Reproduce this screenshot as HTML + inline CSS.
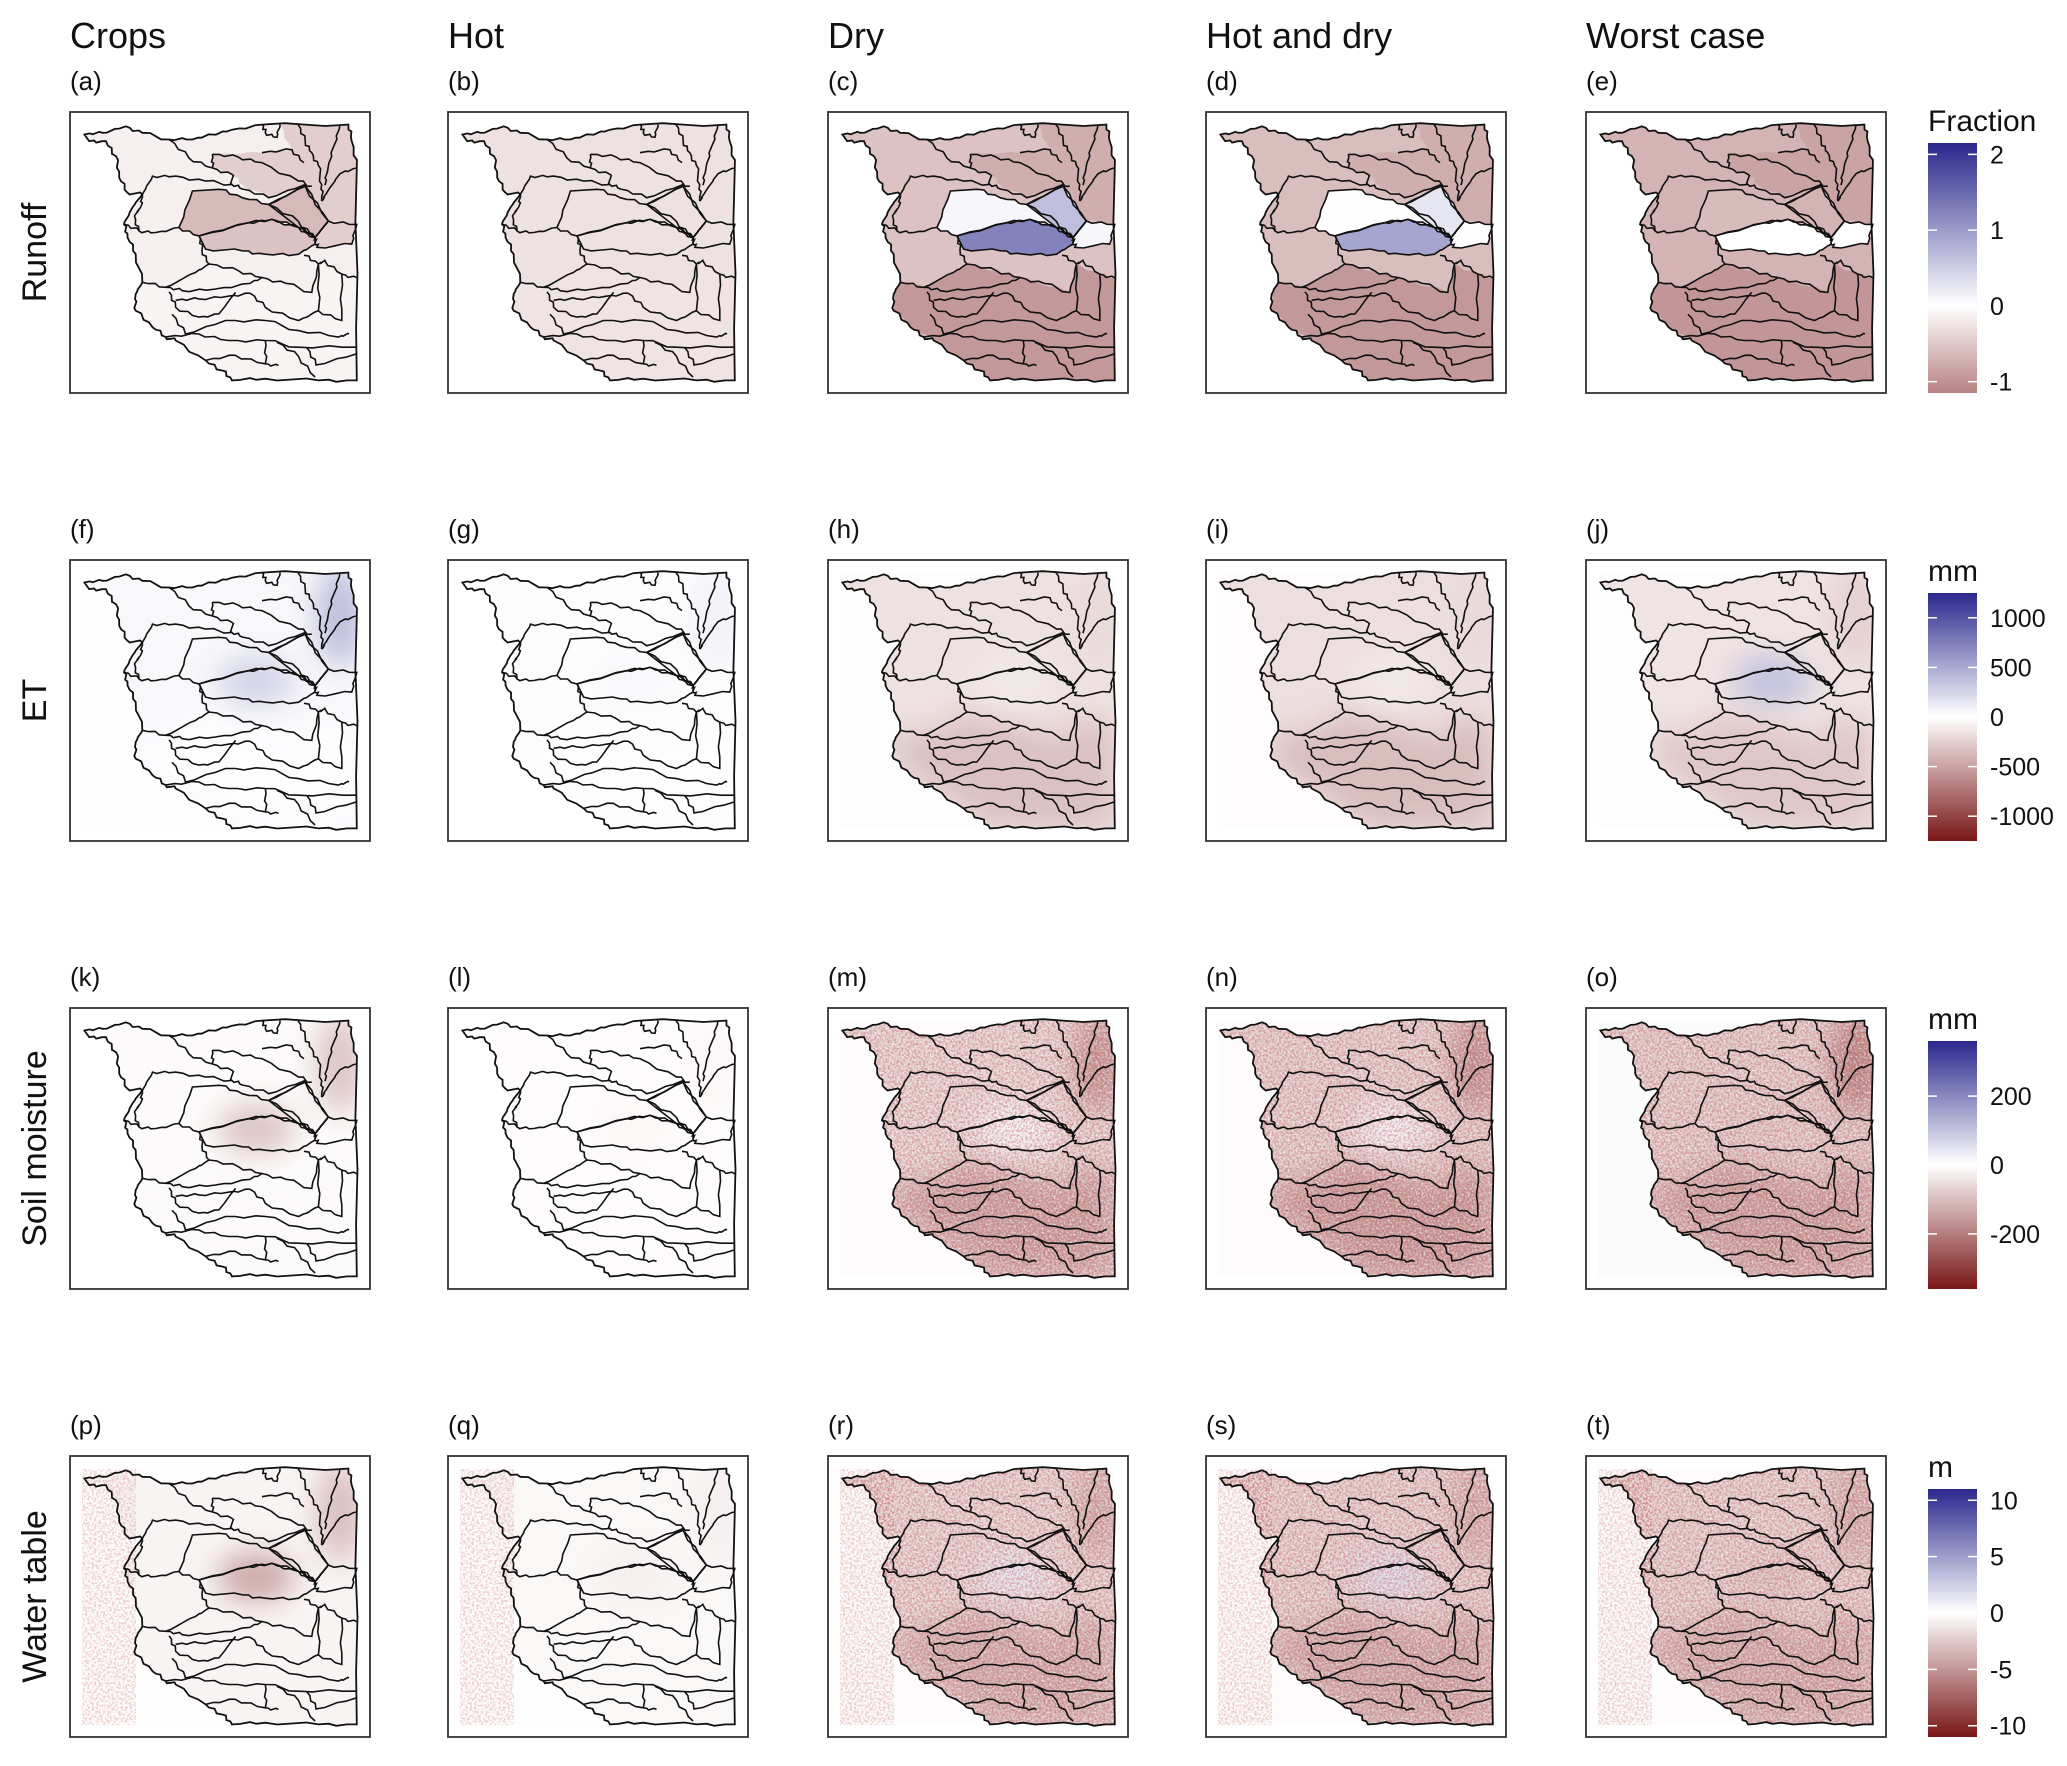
<!DOCTYPE html>
<html><head><meta charset="utf-8">
<style>
html,body{margin:0;padding:0;background:#fff;}
body{width:2067px;height:1761px;overflow:hidden;font-family:"Liberation Sans",Arial,sans-serif;}
svg text{font-family:"Liberation Sans",Arial,sans-serif;fill:#111;}
</style></head>
<body>
<svg id="fig" width="2067" height="1761" viewBox="0 0 2067 1761" xmlns="http://www.w3.org/2000/svg">
<defs>
<filter id="blur" x="-50%" y="-50%" width="200%" height="200%"><feGaussianBlur stdDeviation="14"/></filter>
<filter id="speck" x="0" y="0" width="100%" height="100%">
 <feTurbulence type="fractalNoise" baseFrequency="0.45" numOctaves="2" seed="3" result="n"/>
 <feColorMatrix in="n" type="matrix" values="0 0 0 0 0.55  0 0 0 0 0.12  0 0 0 0 0.12  0 0 0 -4 2.3"/>
</filter>
<filter id="speckW" x="0" y="0" width="100%" height="100%">
 <feTurbulence type="fractalNoise" baseFrequency="0.5" numOctaves="2" seed="8" result="n"/>
 <feColorMatrix in="n" type="matrix" values="0 0 0 0 1  0 0 0 0 1  0 0 0 0 1  0 0 0 -4 2.2"/>
</filter>
</defs>
</svg>
<script>
// ---- data ----
const columnTitles = ["Crops","Hot","Dry","Hot and dry","Worst case"];
const rowTitles = ["Runoff","ET","Soil moisture","Water table"];
const panelLetters = ["a","b","c","d","e","f","g","h","i","j","k","l","m","n","o","p","q","r","s","t"];
const legendUnits = ["Fraction","mm","mm","m"];
const legendMin = [-1.15,-1250,-360,-11];
const legendMax = [2.15,1250,360,11];
const legendTicks = [[2,1,0,-1],[1000,500,0,-500,-1000],[200,0,-200],[10,5,0,-5,-10]];
// runoff basin values per column (fraction)
const runoffNorth   = [-0.15,-0.28,-0.56,-0.60,-0.70];
const runoffSouth   = [-0.10,-0.26,-0.95,-0.95,-0.97];
const runoffNE      = [-0.45,-0.28,-0.75,-0.75,-0.85];
const runoffUpper   = [-0.64,-0.28, 0.08, 0.01,-0.62];
const runoffLower   = [-0.55,-0.28, 1.25, 0.90, 0.00];
const runoffSmall   = [-0.65,-0.28, 0.65, 0.25,-0.70];
const runoffRight   = [-0.45,-0.28, 0.08, 0.01, 0.00];
// raster rows: base value, southern value, central patch value, north-east value (row units)
const etBase    = [  40,  20,-160,-170,-150];
const etSouth   = [  10,  10,-330,-350,-300];
const etPatch   = [ 250,  40,-120,-120, 350];
const etNE      = [ 380,  80,-200,-200,-250];
const smBase    = [  -8,  -6, -70, -80, -85];
const smSouth   = [ -10,  -6,-150,-160,-150];
const smPatch   = [ -90, -12,  20,  25, -90];
const smNE      = [ -90, -12,-170,-180,-200];
const wtBase    = [-0.5,-0.4,-2.2,-2.4,-2.4];
const wtSouth   = [-0.5,-0.4,-4.0,-4.2,-4.0];
const wtPatch   = [-4.0,-0.8, 1.5, 2.0,-3.0];
const wtNE      = [-3.0,-0.8,-4.0,-4.0,-4.0];

// ---- layout ----
const svg = document.getElementById('fig');
const NS = "http://www.w3.org/2000/svg";
const colX = [70,448,828,1206,1586];
const rowY = [112,560,1008,1456];
const PW = 300, PH = 281;
function mk(tag, attrs, parent){const e=document.createElementNS(NS,tag);for(const k in attrs)e.setAttribute(k,attrs[k]);(parent||svg).appendChild(e);return e;}
function lerp(a,b,t){return Math.round(a+(b-a)*t);}
function colorFor(v,min,max){
  if(v>=0){const t=Math.min(1,v/max);return `rgb(${lerp(255,42,t)},${lerp(255,40,t)},${lerp(255,140,t)})`;}
  const t=Math.min(1,v/min);
  return `rgb(${lerp(255,120,t)},${lerp(255,22,t)},${lerp(255,22,t)})`;
}
function runoffColor(v){return colorFor(v,-2.15,2.15);}

// map geometry (fractions)
const outline=[[0.048,0.08],[0.108,0.074],[0.186,0.051],[0.241,0.074],[0.33,0.098],[0.408,0.098],[0.474,0.08],[0.54,0.063],[0.64,0.045],[0.928,0.045],[0.939,0.104],[0.956,0.199],[0.956,0.955],[0.828,0.955],[0.651,0.949],[0.54,0.955],[0.507,0.92],[0.452,0.884],[0.352,0.813],[0.319,0.801],[0.275,0.766],[0.219,0.707],[0.219,0.648],[0.241,0.606],[0.219,0.506],[0.192,0.447],[0.18,0.40],[0.208,0.34],[0.241,0.293],[0.191,0.287],[0.164,0.234],[0.153,0.157],[0.12,0.104],[0.064,0.104]];
const upperP=[[0.408,0.281],[0.363,0.411],[0.43,0.441],[0.596,0.394],[0.673,0.382],[0.762,0.411],[0.817,0.447],[0.861,0.388],[0.784,0.264],[0.662,0.329],[0.574,0.305],[0.496,0.275]];
const lowerP=[[0.43,0.441],[0.596,0.394],[0.673,0.382],[0.762,0.411],[0.817,0.447],[0.817,0.47],[0.762,0.506],[0.651,0.506],[0.574,0.494],[0.452,0.488]];
const smallP=[[0.662,0.329],[0.784,0.264],[0.861,0.388],[0.817,0.447],[0.762,0.411]];
const rightP=[[0.817,0.447],[0.861,0.388],[0.956,0.40],[0.939,0.47],[0.828,0.482],[0.817,0.47]];
const southP=[[0.241,0.606],[0.319,0.624],[0.418,0.571],[0.463,0.541],[0.562,0.565],[0.64,0.589],[0.806,0.642],[0.828,0.541],[0.906,0.577],[0.956,0.59],[0.956,0.955],[0.54,0.955],[0.452,0.884],[0.352,0.813],[0.275,0.766],[0.219,0.707],[0.219,0.648]];
const neP=[[0.474,0.151],[0.64,0.145],[0.74,0.134],[0.7,0.045],[0.956,0.045],[0.956,0.40],[0.861,0.388],[0.784,0.264],[0.662,0.305],[0.574,0.258],[0.54,0.222],[0.474,0.199]];
const lines=[
 [[0.241,0.293],[0.275,0.228],[0.352,0.228],[0.452,0.246],[0.54,0.258]],
 [[0.33,0.098],[0.396,0.163],[0.474,0.199],[0.54,0.222],[0.54,0.258],[0.574,0.274],[0.662,0.305],[0.784,0.258]],
 [[0.474,0.151],[0.56,0.16],[0.64,0.18],[0.762,0.246],[0.806,0.264]],
 [[0.474,0.151],[0.474,0.199]],
 [[0.64,0.045],[0.651,0.074],[0.69,0.09],[0.7,0.045]],
 [[0.76,0.045],[0.784,0.104],[0.806,0.145],[0.828,0.19],[0.839,0.258],[0.839,0.317]],
 [[0.64,0.145],[0.74,0.134],[0.78,0.18]],
 [[0.9,0.045],[0.88,0.12],[0.86,0.2],[0.85,0.26]],
 [[0.956,0.199],[0.9,0.22],[0.86,0.28],[0.84,0.317]],
 [[0.662,0.329],[0.762,0.39],[0.817,0.447]],
 [[0.18,0.40],[0.23,0.423],[0.286,0.429],[0.363,0.411]],
 [[0.241,0.293],[0.235,0.34],[0.215,0.37],[0.23,0.423]],
 [[0.43,0.441],[0.44,0.49],[0.463,0.541],[0.418,0.571],[0.319,0.624],[0.241,0.606]],
 [[0.463,0.541],[0.562,0.565],[0.64,0.589],[0.72,0.61],[0.806,0.642],[0.828,0.541],[0.78,0.51]],
 [[0.828,0.541],[0.85,0.53],[0.906,0.577],[0.956,0.59]],
 [[0.828,0.541],[0.828,0.707],[0.906,0.742],[0.906,0.577]],
 [[0.319,0.624],[0.374,0.636],[0.485,0.63],[0.6,0.61],[0.64,0.589]],
 [[0.33,0.64],[0.352,0.695],[0.43,0.73],[0.496,0.719],[0.552,0.642]],
 [[0.352,0.67],[0.43,0.665],[0.53,0.655],[0.6,0.645]],
 [[0.6,0.645],[0.651,0.695],[0.762,0.742],[0.828,0.707]],
 [[0.34,0.72],[0.385,0.79],[0.518,0.742],[0.651,0.742],[0.762,0.778],[0.895,0.801],[0.93,0.79]],
 [[0.319,0.801],[0.43,0.79],[0.529,0.813],[0.651,0.813],[0.762,0.837],[0.956,0.837]],
 [[0.452,0.884],[0.551,0.866],[0.651,0.896],[0.695,0.902]],
 [[0.651,0.813],[0.651,0.896]],
 [[0.69,0.82],[0.762,0.87],[0.817,0.943]],
 [[0.79,0.84],[0.82,0.9],[0.956,0.86]]
];
function jag(pts){
  let out=[];for(let i=0;i<pts.length;i++){const p=pts[i];out.push([p[0]*PW,p[1]*PH]);
    if(i<pts.length-1){const q=pts[i+1];const n=4;for(let k=1;k<n;k++){const t=k/n;const w=((i*7+k*13)%5-2)*0.7;out.push([(p[0]+(q[0]-p[0])*t)*PW+w,(p[1]+(q[1]-p[1])*t)*PH-w]);}}}
  return out;}
function pathD(pts,close){const j=jag(pts);return j.map((p,i)=>(i?'L':'M')+p[0].toFixed(1)+','+p[1].toFixed(1)).join('')+(close?'Z':'');}
const outlineD=pathD(outline,true);
const defs=svg.querySelector('defs');
const cp=mk('clipPath',{id:'mapclip'},defs);
mk('path',{d:outlineD},cp);

columnTitles.forEach((t,i)=>{const e=mk('text',{x:colX[i],y:48,'font-size':36});e.textContent=t;

});
rowTitles.forEach((t,r)=>{const cy=rowY[r]+PH/2;const e=mk('text',{x:0,y:0,'font-size':34,'text-anchor':'middle',transform:`translate(46,${cy}) rotate(-90)`});e.textContent=t;

});

function drawBasinLines(g){
  mk('path',{d:outlineD,fill:'none',stroke:'#111','stroke-width':1.8},g);
  [upperP,lowerP,smallP,rightP].forEach(p=>mk('path',{d:pathD(p,true),fill:'none',stroke:'#111','stroke-width':1.6},g));
  lines.forEach(l=>mk('path',{d:pathD(l,false),fill:'none',stroke:'#111','stroke-width':1.6},g));
}

const rasterBase=[null,etBase,smBase,wtBase], rasterSouth=[null,etSouth,smSouth,wtSouth], rasterPatch=[null,etPatch,smPatch,wtPatch], rasterNE=[null,etNE,smNE,wtNE];

for(let r=0;r<4;r++){
  for(let c=0;c<5;c++){
    const idx=r*5+c;
    const lab=mk('text',{x:colX[c],y:rowY[r]-22,'font-size':26});lab.textContent='('+panelLetters[idx]+')';
    
    
    const g=mk('g',{transform:`translate(${colX[c]},${rowY[r]})`});
    
    
    mk('rect',{x:0,y:0,width:PW,height:PH,fill:'#fff'},g);
    const mn=legendMin[r], mx=legendMax[r];
    if(r===0){
      const f=mk('g',{'clip-path':'url(#mapclip)'},g);
      mk('rect',{x:0,y:0,width:PW,height:PH,fill:runoffColor(runoffNorth[c])},f);
      mk('path',{d:pathD(neP,true),fill:runoffColor(runoffNE[c])},f);
      mk('path',{d:pathD(southP,true),fill:runoffColor(runoffSouth[c])},f);
      mk('path',{d:pathD(upperP,true),fill:runoffColor(runoffUpper[c])},f);
      mk('path',{d:pathD(lowerP,true),fill:runoffColor(runoffLower[c])},f);
      mk('path',{d:pathD(smallP,true),fill:runoffColor(runoffSmall[c])},f);
      mk('path',{d:pathD(rightP,true),fill:runoffColor(runoffRight[c])},f);
    } else {
      const f=mk('g',{},g);
      const x0=0.04*PW,y0=0.047*PH,w=0.915*PW,h=0.909*PH;
      mk('rect',{x:x0,y:y0,width:w,height:h,fill:colorFor(rasterBase[r][c]*0.08,mn,mx)},f);
      const inner=mk('g',{'clip-path':'url(#mapclip)'},f);
      mk('rect',{x:0,y:0,width:PW,height:PH,fill:colorFor(rasterBase[r][c],mn,mx)},inner);
      mk('path',{d:pathD(southP,true),fill:colorFor(rasterSouth[r][c],mn,mx),filter:'url(#blur)'},inner);
      mk('ellipse',{cx:0.9*PW,cy:0.2*PH,rx:0.08*PW,ry:0.18*PH,fill:colorFor(rasterNE[r][c],mn,mx),filter:'url(#blur)'},inner);
      mk('ellipse',{cx:0.62*PW,cy:0.43*PH,rx:0.13*PW,ry:0.09*PH,fill:colorFor(rasterPatch[r][c],mn,mx),filter:'url(#blur)'},inner);
      if(r>=2 && c>=2){
        mk('rect',{x:x0,y:y0,width:w,height:h,filter:'url(#speckW)',opacity:0.55},inner);
        mk('rect',{x:x0,y:y0,width:w,height:h,filter:'url(#speck)',opacity:0.45},inner);
      }
      if(r===3){mk('rect',{x:x0,y:y0,width:0.18*PW,height:h,filter:'url(#speck)',opacity:0.3},f);}
    }
    drawBasinLines(g);
    mk('rect',{x:0,y:0,width:PW,height:PH,fill:'none',stroke:'#333','stroke-width':1.8},g);
  }
  // legend
  const lx=1928, lw=49, ly=[143,593,1041,1489][r], lh=[250,248,248,248][r];
  const gid='grad'+r;
  const lg=mk('linearGradient',{id:gid,x1:0,y1:0,x2:0,y2:1},defs);
  const mn=legendMin[r], mx=legendMax[r];
  for(let k=0;k<=20;k++){const t=k/20;const v=mx+(mn-mx)*t;mk('stop',{offset:t,'stop-color':r===0?runoffColor(v):colorFor(v,mn,mx)},lg);}
  const lgG=mk('g',{});
  
  
  mk('rect',{x:lx,y:ly,width:lw,height:lh,fill:`url(#${gid})`},lgG);
  const ut=mk('text',{x:lx,y:ly-12,'font-size':30},lgG);ut.textContent=legendUnits[r];
  const sy=v=>ly+(mx-v)/(mx-mn)*lh;
  legendTicks[r].forEach(v=>{const y=sy(v);
    mk('line',{x1:lx,x2:lx+9,y1:y,y2:y,stroke:'#fff','stroke-width':1.5},lgG);
    mk('line',{x1:lx+lw-9,x2:lx+lw,y1:y,y2:y,stroke:'#fff','stroke-width':1.5},lgG);
    const t=mk('text',{x:lx+lw+13,y:y+9,'font-size':25},lgG);t.textContent=String(v);});
}
</script>
</body></html>
